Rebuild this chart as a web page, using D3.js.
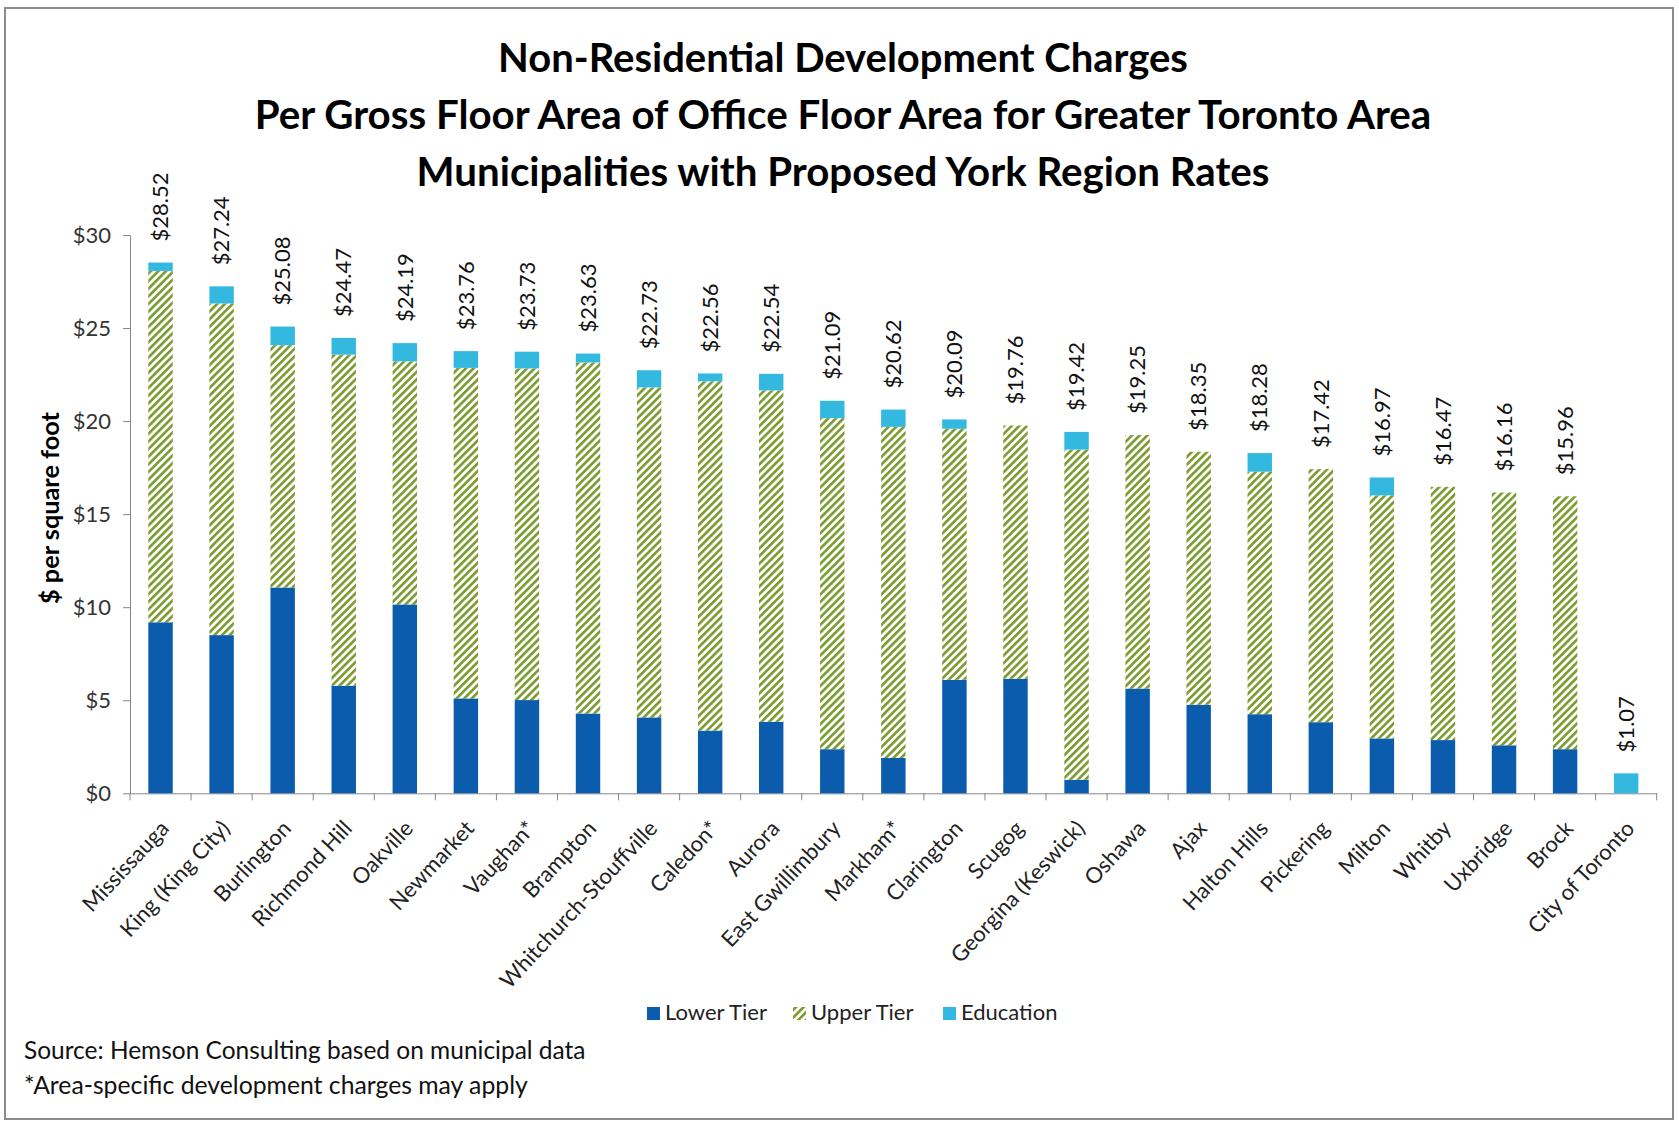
<!DOCTYPE html>
<html><head><meta charset="utf-8">
<script src="https://cdn.jsdelivr.net/npm/d3@7"></script>
<style>
html,body{margin:0;padding:0;background:#fff;}
svg{display:block;font-family:Lato,"Open Sans",sans-serif;}
</style></head><body>
<svg id="chart" width="1679" height="1123"></svg>
<script>
const categories = ["Mississauga","King (King City)","Burlington","Richmond Hill","Oakville","Newmarket","Vaughan*","Brampton","Whitchurch-Stouffville","Caledon*","Aurora","East Gwillimbury","Markham*","Clarington","Scugog","Georgina (Keswick)","Oshawa","Ajax","Halton Hills","Pickering","Milton","Whitby","Uxbridge","Brock","City of Toronto"];
const lowerTier = [9.19,8.50,11.06,5.78,10.15,5.10,5.01,4.29,4.08,3.37,3.84,2.37,1.90,6.10,6.16,0.73,5.63,4.76,4.25,3.82,2.95,2.86,2.58,2.37,0];
const upperTier = [18.88,17.82,13.02,17.79,13.06,17.76,17.82,18.86,17.73,18.77,17.81,17.79,17.79,13.49,13.60,17.74,13.62,13.59,13.03,13.60,13.06,13.61,13.58,13.59,0];
const education = [0.45,0.92,1.00,0.90,0.98,0.90,0.90,0.48,0.92,0.42,0.89,0.93,0.93,0.50,0,0.95,0,0,1.00,0,0.96,0,0,0,1.07];
const totalLabels = ["$28.52","$27.24","$25.08","$24.47","$24.19","$23.76","$23.73","$23.63","$22.73","$22.56","$22.54","$21.09","$20.62","$20.09","$19.76","$19.42","$19.25","$18.35","$18.28","$17.42","$16.97","$16.47","$16.16","$15.96","$1.07"];
const yTicks = [0,5,10,15,20,25,30];
const seriesNames = ["Lower Tier","Upper Tier","Education"];
const titleLines = ["Non-Residential Development Charges","Per Gross Floor Area of Office Floor Area for Greater Toronto Area","Municipalities with Proposed York Region Rates"];
const yTitle = "$ per square foot";
const footnotes = ["Source: Hemson Consulting based on municipal data","*Area-specific development charges may apply"];

const W = 1679, H = 1123;
const svg = d3.select("#chart");
svg.append("rect").attr("width", W).attr("height", H).attr("fill", "#fff");
svg.append("rect").attr("x", 5).attr("y", 8).attr("width", 1668).attr("height", 1111)
  .attr("fill", "none").attr("stroke", "#8c8c8c").attr("stroke-width", 2);

const defs = svg.append("defs");
const pat = defs.append("pattern").attr("id", "upperPat").attr("patternUnits", "userSpaceOnUse")
  .attr("width", 5.4).attr("height", 5.4).attr("patternTransform", "rotate(45)");
pat.append("rect").attr("width", 5.4).attr("height", 5.4).attr("fill", "#fff");
pat.append("rect").attr("width", 2.6).attr("height", 5.4).attr("fill", "#7a9a2c");

const colors = {"Lower Tier": "#0b5cad", "Upper Tier": "url(#upperPat)", "Education": "#33b9e0"};

function fit(sel, target) {
  const n = sel.node();
  const w = n.getComputedTextLength();
  const fs = parseFloat(sel.attr("font-size"));
  sel.attr("font-size", fs * target / w);
}

// Title
const titleBase = [72, 128.5, 186];
const titleWidths = [690, 1177, 853];
const tt = svg.append("g");
titleLines.forEach((t, i) => {
  const s = tt.append("text").attr("x", 843).attr("y", titleBase[i]).attr("text-anchor", "middle")
    .attr("font-weight", 700).attr("font-size", 40).attr("fill", "#000").text(t);
  fit(s, titleWidths[i]);
});

const plot = {left: 130, right: 1656.7, top: 235, bottom: 793.3};
const x = d3.scaleBand().domain(categories).range([plot.left, plot.right]).paddingInner(0.6).paddingOuter(0.3);
const y = d3.scaleLinear().domain([0, 30]).range([plot.bottom, plot.top]);

const rows = categories.map((c, i) => ({cat: c, "Lower Tier": lowerTier[i], "Upper Tier": upperTier[i], "Education": education[i]}));
const stacked = d3.stack().keys(seriesNames)(rows);

// Axes
const yAxis = svg.append("g").attr("transform", `translate(${plot.left},0)`)
  .call(d3.axisLeft(y).tickValues(yTicks).tickFormat(d => "$" + d).tickSize(7).tickSizeOuter(0).tickPadding(12));
yAxis.select(".domain").attr("stroke", "#868686");
yAxis.selectAll(".tick line").attr("stroke", "#868686");
yAxis.selectAll(".tick text").attr("font-family", "Lato").attr("font-size", 22).attr("fill", "#333");

const xAxis = svg.append("g").attr("transform", `translate(0,${plot.bottom})`)
  .call(d3.axisBottom(x).tickSize(0).tickSizeOuter(0).tickPadding(0));
xAxis.select(".domain").attr("stroke", "#868686");
xAxis.selectAll(".tick text")
  .attr("font-family", "Lato").attr("font-size", 22).attr("fill", "#222")
  .attr("text-anchor", "end").attr("dy", "0.35em")
  .attr("transform", "translate(4,31) rotate(-47)").attr("y", 0).attr("x", 0);
const bounds = d3.range(categories.length + 1).map(i => plot.left + i * x.step());
xAxis.selectAll(".bnd").data(bounds).join("line").attr("class", "bnd")
  .attr("x1", d => d).attr("x2", d => d).attr("y1", 0).attr("y2", 7).attr("stroke", "#868686");

// Bars
stacked.forEach(layer => {
  svg.append("g").selectAll("rect").data(layer.filter(d => d[1] - d[0] > 0)).join("rect")
    .attr("x", d => x(d.data.cat)).attr("width", x.bandwidth())
    .attr("y", d => y(d[1])).attr("height", d => y(d[0]) - y(d[1]))
    .attr("fill", colors[layer.key]);
});

// Value labels
svg.append("g").selectAll("text").data(rows).join("text")
  .attr("transform", (d, i) => `translate(${x(d.cat) + x.bandwidth() / 2},${y(lowerTier[i] + upperTier[i] + education[i]) - 21}) rotate(-90)`)
  .attr("dy", "0.35em").attr("font-size", 22).attr("fill", "#111")
  .text((d, i) => totalLabels[i]);

// Y title
const yt = svg.append("text").attr("transform", "translate(50,508) rotate(-90)").attr("text-anchor", "middle")
  .attr("dy", "0.35em").attr("font-weight", 700).attr("font-size", 21).attr("fill", "#000").text(yTitle);
fit(yt, 192);

// Legend
const legX = [647, 793, 943];
const lg = svg.append("g").attr("transform", "translate(0,1007)");
seriesNames.forEach((s, i) => {
  lg.append("rect").attr("x", legX[i]).attr("y", 0).attr("width", 13).attr("height", 13).attr("fill", colors[s]);
  lg.append("text").attr("x", legX[i] + 18).attr("y", 13).attr("font-size", 22).attr("fill", "#222").text(s);
});

// Footnotes
const fy = [1059, 1094];
const fw = [562, 504];
footnotes.forEach((t, i) => {
  const s = svg.append("text").attr("x", 24).attr("y", fy[i]).attr("font-size", 23).attr("fill", "#111").text(t);
  fit(s, fw[i]);
});
</script>
</body></html>
